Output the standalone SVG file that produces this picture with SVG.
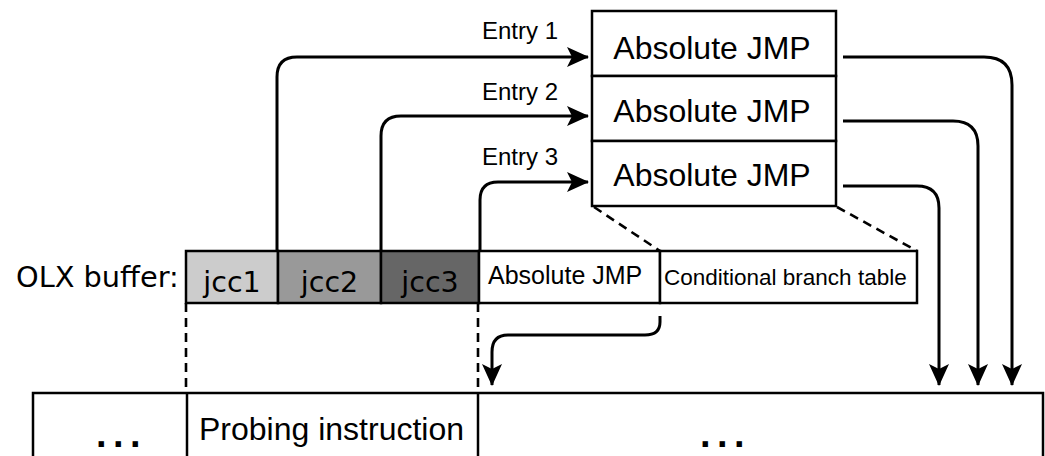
<svg xmlns="http://www.w3.org/2000/svg" width="1045" height="456" viewBox="0 0 1045 456">
<style>
.box{fill:#fff;stroke:#000;stroke-width:2.5}
.t{font-family:"Liberation Sans",Arial,sans-serif;fill:#000}
.l{font-family:"DejaVu Sans","Liberation Sans",sans-serif;fill:#000}
.dots{font-family:"Liberation Sans",Arial,sans-serif;font-weight:bold;font-size:38px;letter-spacing:6.4px;fill:#000}
.c{fill:none;stroke:#000;stroke-width:3}
.d{fill:none;stroke:#000;stroke-width:2.6;stroke-dasharray:9 6}
</style>
<defs>
<marker id="ah" viewBox="0 0 22 20" refX="21" refY="10" markerWidth="22" markerHeight="20" markerUnits="userSpaceOnUse" orient="auto">
<path d="M0,0 L22,10 L0,20 L5,10 Z" fill="#000"/>
</marker>
</defs>
<g id="table">
<g id="entry1"><rect class="box" x="592" y="11" width="244" height="65"/><text class="t" x="712" y="59" font-size="32" text-anchor="middle">Absolute JMP</text></g>
<g id="entry2"><rect class="box" x="592" y="76" width="244" height="65"/><text class="t" x="712" y="122" font-size="32" text-anchor="middle">Absolute JMP</text></g>
<g id="entry3"><rect class="box" x="592" y="141" width="244" height="65"/><text class="t" x="712" y="186" font-size="32" text-anchor="middle">Absolute JMP</text></g>
</g>
<g id="labels">
<text class="t" x="482" y="39" font-size="24">Entry 1</text>
<text class="t" x="482" y="100" font-size="24">Entry 2</text>
<text class="t" x="482" y="165" font-size="24">Entry 3</text>
<text class="l" x="16" y="287" font-size="28.8">OLX buffer:</text>
</g>
<g id="buffer">
<g id="jcc1"><rect class="box" x="186" y="251" width="92" height="52" style="fill:#cccccc"/><text class="l" x="232" y="292" font-size="28.5" text-anchor="middle">jcc1</text></g>
<g id="jcc2"><rect class="box" x="278" y="251" width="103" height="52" style="fill:#999999"/><text class="l" x="329.5" y="292" font-size="28.5" text-anchor="middle">jcc2</text></g>
<g id="jcc3"><rect class="box" x="381" y="251" width="98" height="52" style="fill:#666666"/><text class="l" x="430" y="292" font-size="28.5" text-anchor="middle">jcc3</text></g>
<g id="absjmp"><rect class="box" x="479" y="251" width="181" height="52"/><text class="t" x="488" y="284" font-size="25">Absolute JMP</text></g>
<g id="cbt"><rect class="box" x="660" y="251" width="257" height="52"/><text class="t" x="664" y="285" font-size="22.5">Conditional branch table</text></g>
</g>
<g id="code">
<rect class="box" x="33" y="393" width="1010" height="80"/>
<line x1="187" y1="393" x2="187" y2="456" stroke="#000" stroke-width="2.5"/>
<line x1="478" y1="393" x2="478" y2="456" stroke="#000" stroke-width="2.5"/>
<text class="dots" x="96" y="447">...</text>
<text class="t" x="199" y="440" font-size="32">Probing instruction</text>
<text class="dots" x="700" y="447">...</text>
</g>
<g id="connectors">
<path class="c" d="M277,251 L277,77 Q277,57 297,57 L588,57" marker-end="url(#ah)"/>
<path class="c" d="M381,251 L381,136 Q381,116 401,116 L588,116" marker-end="url(#ah)"/>
<path class="c" d="M480,251 L480,200 Q480,182 498,182 L588,182" marker-end="url(#ah)"/>
<path class="c" d="M843,57 L984,57 Q1012,57 1012,85 L1012,385" marker-end="url(#ah)"/>
<path class="c" d="M843,121 L953,121 Q978,121 978,146 L978,385" marker-end="url(#ah)"/>
<path class="c" d="M843,186 L917,186 Q939,186 939,208 L939,385" marker-end="url(#ah)"/>
<path class="c" d="M660,316 L660,322 Q660,335 645,335 L508,335 Q492,335 492,352 L492,385" marker-end="url(#ah)"/>
<line class="d" x1="594" y1="207" x2="660" y2="251"/>
<line class="d" x1="837" y1="207" x2="917" y2="251"/>
<line class="d" x1="186" y1="303" x2="186" y2="393"/>
<line class="d" x1="478" y1="303" x2="478" y2="393"/>
</g>
</svg>
